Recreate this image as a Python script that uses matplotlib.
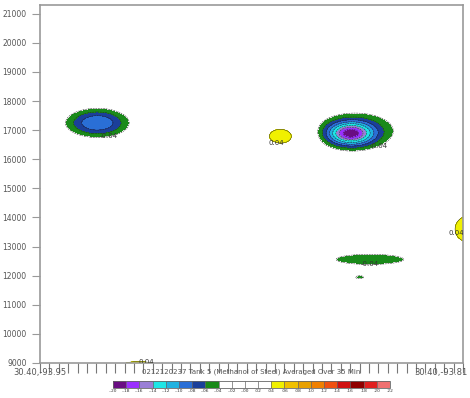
import numpy as np
import matplotlib
matplotlib.use("Agg")
import matplotlib.pyplot as plt
from matplotlib.colors import ListedColormap, BoundaryNorm

# contour levels and colours of the legend bar
levels = np.round(np.arange(-0.20, 0.2201, 0.02), 2)
colors = ["#6a0d83", "#9b30ff", "#9a7fd6", "#1ee6e6", "#20b2e0", "#2a6fd6",
          "#1b3f9a", "#1a8a1a", "#ffffff", "#ffffff", "#ffffff", "#ffffff",
          "#f0f000", "#f0c000", "#e8a000", "#f08000", "#f05010", "#d01010",
          "#900000", "#e02020", "#f07070"]

# features: centre x (index), centre y, amplitude, spread x, spread y
feat_x = [6.1, 33.9, 33.0, 25.8, 45.6, 35.1, 34.0, 10.5]
feat_y = [17250, 17000, 16880, 16800, 13600, 12560, 11940, 8850]
feat_amp = [-0.10, -0.06, -0.14, 0.055, 0.06, -0.05, -0.042, 0.055]
feat_sx = [2.5, 3.7, 1.7, 1.9, 1.6, 5.4, 0.85, 2.6]
feat_sy = [370, 560, 280, 360, 500, 260, 100, 250]

xmax = 45
ylo, yhi = 9000, 21300
left_label = "30.40,-93.95"
right_label = "30.40,-93.81"
title = "0212120237 Tank 5 (Methanol of Steel) Averaged Over 35 Min"

xs = np.linspace(0, xmax, 500)
ys = np.linspace(ylo, yhi, 600)
X, Y = np.meshgrid(xs, ys)
Z = np.zeros_like(X)
for cx, cy, a, sx, sy in zip(feat_x, feat_y, feat_amp, feat_sx, feat_sy):
    Z += a * np.exp(-0.5 * (((X - cx) / sx) ** 2 + ((Y - cy) / sy) ** 2))

cmap = ListedColormap(colors)
norm = BoundaryNorm(levels, cmap.N)

fig = plt.figure(figsize=(4.7, 3.98), dpi=100)
ax = fig.add_axes([40 / 470, 35 / 398, 423 / 470, 358 / 398])
cf = ax.contourf(X, Y, Z, levels=levels, cmap=cmap, norm=norm)
line_levels = [v for v in levels if abs(v) >= 0.039]
cs = ax.contour(X, Y, Z, levels=line_levels, colors="#222222", linewidths=0.35)
lab = ax.clabel(cs, [-0.04, 0.04], inline=False, fontsize=5, fmt="%.2f", colors="#333333")
for t in lab:
    t.set_rotation(0)

ax.set_xlim(0, xmax)
ax.set_ylim(ylo, yhi)
ax.set_yticks(np.arange(9000, 21001, 1000))
ax.tick_params(axis="y", labelsize=5.5, colors="#999999", labelcolor="#555555",
               length=6, width=0.8, direction="out")
ax.set_xticks([0, xmax])
ax.set_xticklabels([])
ax.set_xticks(np.arange(1, xmax), minor=True)
ax.tick_params(axis="x", which="both", colors="#777777", length=7, width=0.8,
               direction="out")
for s in ax.spines.values():
    s.set_color("#999999")
    s.set_linewidth(1.2)

fig.text(40 / 470, 26 / 398, left_label, ha="center", va="center",
         fontsize=6, color="#555555")
fig.text(468 / 470, 26 / 398, right_label, ha="right", va="center",
         fontsize=6, color="#555555")
fig.text(251 / 470, 26 / 398, title, ha="center", va="center",
         fontsize=5, color="#555555")

cax = fig.add_axes([113 / 470, 10 / 398, 277 / 470, 7 / 398])
cb = fig.colorbar(cf, cax=cax, orientation="horizontal", drawedges=True)
cb.outline.set_edgecolor("#666666")
cb.outline.set_linewidth(0.6)
cb.dividers.set_color("#666666")
cb.dividers.set_linewidth(0.5)
cb.set_ticks(levels)
cb.set_ticklabels([("%.2f" % v).replace("0.", ".", 1) for v in levels])
cax.tick_params(labelsize=3.2, length=0, pad=1, labelcolor="#333333")

fig.savefig("out.png", dpi=100)
